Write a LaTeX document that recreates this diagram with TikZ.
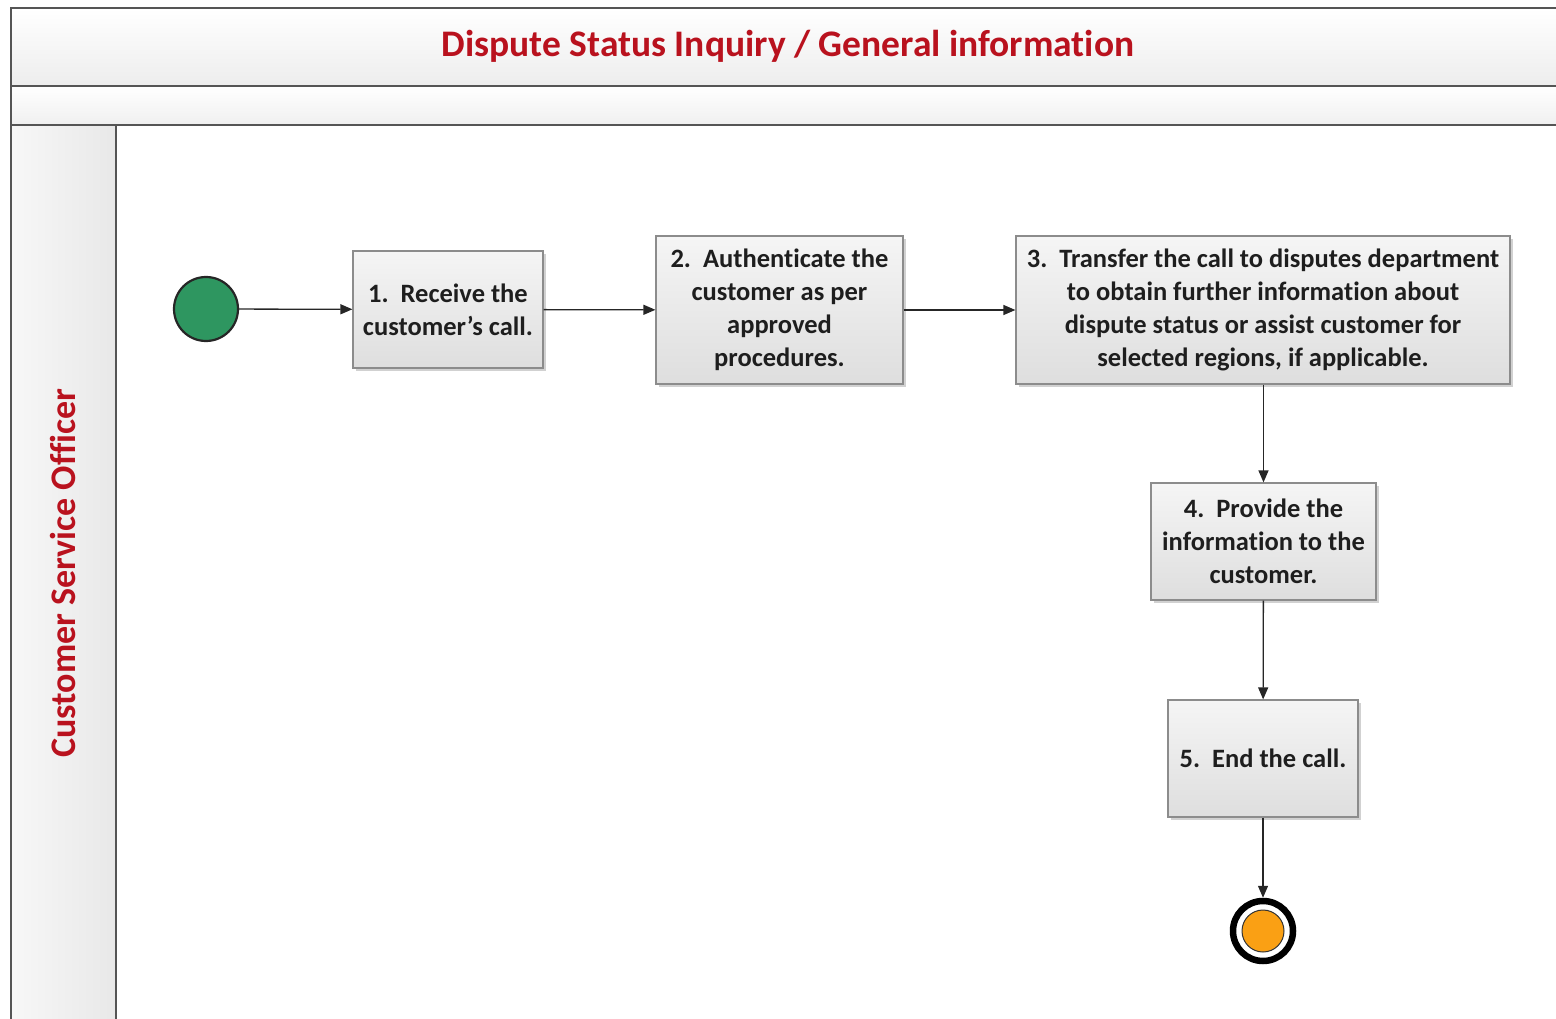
\documentclass[tikz,border=0pt]{standalone}
\usepackage{fontspec}
\setmainfont{Carlito}[Ligatures=NoCommon]
\usetikzlibrary{arrows.meta}
\definecolor{titlered}{RGB}{185,18,30}
\definecolor{framegray}{RGB}{85,85,85}
\definecolor{boxborder}{RGB}{140,140,140}
\definecolor{boxtop}{RGB}{245,245,245}
\definecolor{boxbot}{RGB}{222,222,222}
\definecolor{startgreen}{RGB}{46,150,96}
\definecolor{endorange}{RGB}{250,160,20}
\definecolor{txt}{RGB}{30,30,30}
\begin{document}
\begin{tikzpicture}[x=1pt,y=-1pt,
  task/.style={draw=boxborder, line width=1.2pt, top color=boxtop, bottom color=boxbot,
    align=center, inner sep=0pt, text=txt,
    font=\fontsize{26.5}{33}\selectfont\bfseries},
  flow/.style={draw=black!85, line width=1.3pt, -{Triangle[length=12pt,width=10pt]}},
  frame/.style={draw=framegray, line width=1.8pt}
]
\useasboundingbox (0,0) rectangle (1556,1019);
% bands
\fill[top color=white, bottom color=black!7] (11,8) rectangle (1556,86);
\fill[top color=white, bottom color=black!6] (11,86) rectangle (1556,125);
\fill[left color=black!3, right color=black!9] (11,125) rectangle (116,1019);
\draw[frame] (1556,8) -- (11,8) -- (11,1019);
\draw[frame] (11,86) -- (1556,86);
\draw[frame] (11,125) -- (1556,125);
\draw[frame] (116,125) -- (116,1019);
\node (title) at (788,46) {\textcolor{titlered}{\fontsize{37.5}{44}\selectfont\bfseries Dispute Status Inquiry / General information}};
\node[rotate=90] (lane) at (63,573) {\textcolor{titlered}{\fontsize{36}{42}\selectfont\bfseries Customer Service Officer}};
% shadows
\foreach \a/\b/\c/\d in {353/251/543/368, 656/236/903/384, 1016/236/1510/384, 1151/483/1376/600, 1168/700/1358/817}
  \fill[black!18] (\a+3,\b+3) rectangle (\c+3,\d+3);
% events
\node[circle, draw=black!85, line width=2.2pt, fill=startgreen, minimum size=64pt, inner sep=0pt] (start) at (206,309) {};
\node[circle, draw=black, line width=6.5pt, fill=white, minimum size=60pt, inner sep=0pt] (end) at (1263,931) {};
\node[circle, draw=black!80, line width=1pt, fill=endorange, minimum size=42pt, inner sep=0pt] (endin) at (1263,931) {};
% tasks
\node[task, minimum width=190pt, minimum height=117pt] (t1) at (448,309.5) {1.\ \ Receive the\\customer’s call.};
\node[task, minimum width=247pt, minimum height=148pt] (t2) at (779.5,310) {2.\ \ Authenticate the\\customer as per\\approved\\procedures.};
\node[task, minimum width=494pt, minimum height=148pt] (t3) at (1263,310) {3.\ \ Transfer the call to disputes department\\to obtain further information about\\dispute status or assist customer for\\selected regions, if applicable.};
\node[task, minimum width=225pt, minimum height=117pt] (t4) at (1263.5,541.5) {4.\ \ Provide the\\information to the\\customer.};
\node[task, minimum width=190pt, minimum height=117pt] (t5) at (1263,758.5) {5.\ \ End the call.};
% flows
\draw[flow] (start) -- (t1);
\draw[flow] (t1) -- (t2);
\draw[flow] (t2) -- (t3);
\draw[flow] (t3.south -| t4.north) -- (t4.north);
\draw[flow] (t4) -- (t5);
\draw[flow] (t5) -- (end);
\end{tikzpicture}
\end{document}
